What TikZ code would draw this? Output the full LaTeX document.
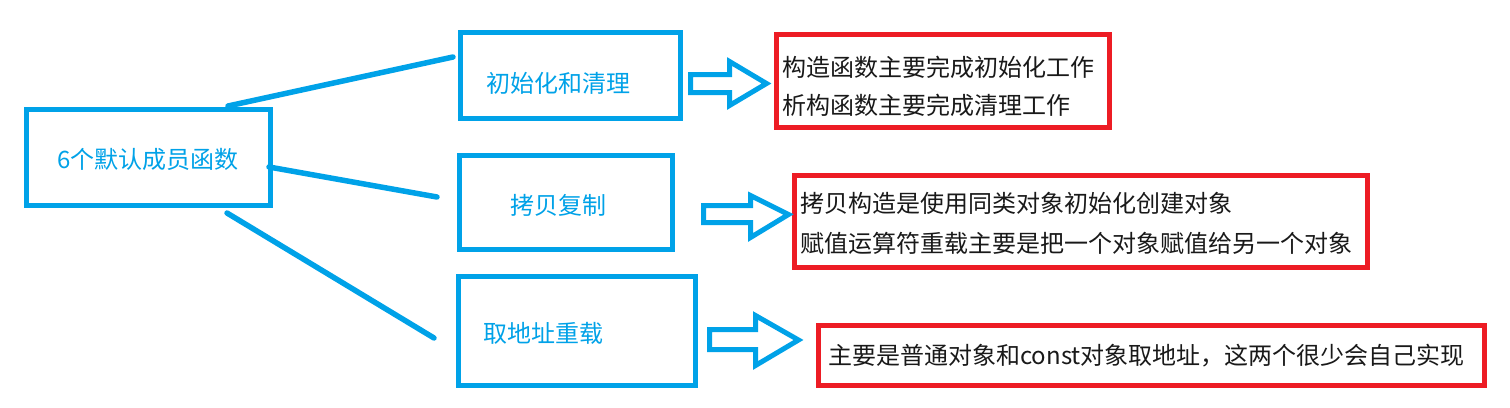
\documentclass[tikz,border=0pt]{standalone}
\usepackage{fontspec}
\setmainfont{Noto Sans CJK SC}
\definecolor{pblue}{RGB}{0,162,232}
\definecolor{pred}{RGB}{237,28,36}
\definecolor{ptext}{RGB}{25,25,25}
\begin{document}
\begin{tikzpicture}[x=1pt,y=-1pt,
  bluebox/.style={draw=pblue,line width=5pt,rectangle,inner sep=0pt,fill=white},
  redbox/.style={draw=pred,line width=5pt,rectangle,inner sep=0pt,fill=white},
  bluetxt/.style={text=pblue,inner sep=0pt,font=\fontsize{24}{28}\selectfont},
  blacktxt/.style={text=ptext,inner sep=0pt,font=\fontsize{24}{28}\selectfont},
  link/.style={draw=pblue,line width=5.5pt,line cap=round},
  blockarrow/.style={draw=pblue,line width=5pt,line join=miter,fill=white}]
\useasboundingbox (0,0) rectangle (1510,407);
% boxes
\node[bluebox,minimum width=244pt,minimum height=96pt] (main) at (148.5,157.5) {};
\node[bluebox,minimum width=220pt,minimum height=86pt] (init) at (570.5,75.5) {};
\node[bluebox,minimum width=213pt,minimum height=94pt] (copy) at (566,202.5) {};
\node[bluebox,minimum width=237pt,minimum height=109pt] (addr) at (577,331) {};
\node[redbox,minimum width=333pt,minimum height=93pt] (r1) at (943,81) {};
\node[redbox,minimum width=573pt,minimum height=92pt] (r2) at (1081,221.5) {};
\node[redbox,minimum width=666pt,minimum height=60pt] (r3) at (1151.5,355.5) {};
% texts
\node[bluetxt,anchor=base] (tmain) at (148,168) {6个默认成员函数};
\node[bluetxt,anchor=base west] (tinit) at (486,92) {初始化和清理};
\node[bluetxt,anchor=base west] (tcopy) at (510,214) {拷贝复制};
\node[bluetxt,anchor=base west] (taddr) at (483,342) {取地址重载};
\node[blacktxt,anchor=base west] (t11) at (782,76) {构造函数主要完成初始化工作};
\node[blacktxt,anchor=base west] (t12) at (782,114) {析构函数主要完成清理工作};
\node[blacktxt,anchor=base west] (t21) at (800,212) {拷贝构造是使用同类对象初始化创建对象};
\node[blacktxt,anchor=base west] (t22) at (800,252) {赋值运算符重载主要是把一个对象赋值给另一个对象};
\node[blacktxt,anchor=base west] (t31) at (828,364) {主要是普通对象和const对象取地址，这两个很少会自己实现};
% connectors
\coordinate (a1) at (228,106);
\coordinate (b1) at (453,57);
\coordinate (a2) at (269,167);
\coordinate (b2) at (437,197);
\coordinate (a3) at (227,213);
\coordinate (b3) at (434,338);
\draw[link] (a1) -- (b1);
\draw[link] (a2) -- (b2);
\draw[link] (a3) -- (b3);
% block arrows
\draw[blockarrow] (690.5,74.5) -- (729.5,74.5) -- (729.5,61.5) -- (766.5,83.5) -- (729.5,105.5) -- (729.5,92.5) -- (690.5,92.5) -- cycle;
\draw[blockarrow] (703.5,205.5) -- (750.5,205.5) -- (750.5,195.5) -- (788.5,214.5) -- (750.5,237.5) -- (750.5,222.5) -- (703.5,222.5) -- cycle;
\draw[blockarrow] (709.5,329.5) -- (755.5,329.5) -- (755.5,315.5) -- (798.5,340) -- (755.5,365.5) -- (755.5,349.5) -- (709.5,349.5) -- cycle;
\end{tikzpicture}
\end{document}
